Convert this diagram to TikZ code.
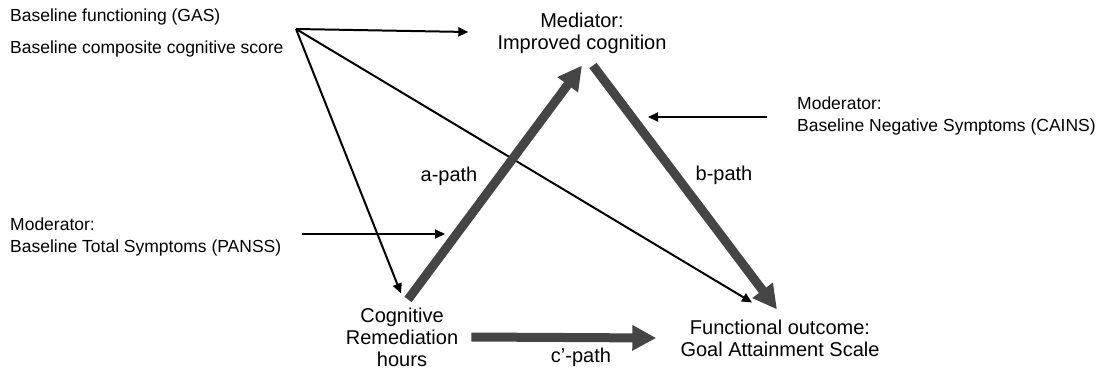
\documentclass[tikz,border=0pt]{standalone}
\usepackage{fontspec}
\setmainfont{Liberation Sans}
\usetikzlibrary{arrows.meta}
\definecolor{pathgray}{HTML}{454545}

\begin{document}
\begin{tikzpicture}[x=1pt, y=-1pt,
      lbl/.style={font=\fontsize{17.5}{22.5}\selectfont, inner sep=0pt, align=left},
      var/.style={font=\fontsize{20}{22}\selectfont, inner sep=0pt, align=center},
      pathlbl/.style={font=\fontsize{20}{22}\selectfont, inner sep=0pt},
      thinarrow/.style={line width=2pt, -{Triangle[length=10pt,width=9pt]}},
      patharrow/.style={line width=9pt, draw=pathgray, -{Triangle[length=24pt,width=24pt]}}
    ]
    \useasboundingbox (0,0) rectangle (1104,372);

    % baseline covariates
    \node[lbl, anchor=base west] (gas) at (10,21.5) {Baseline functioning (GAS)};
    \node[lbl, anchor=base west] (cog) at (10,53.5) {Baseline composite cognitive score};
    \coordinate (fan) at (296,29);

    % mediator, predictor and outcome
    \node[var] (med) at (582,33) {Mediator:\\Improved cognition};
    \node[var] (crh) at (402,337) {Cognitive\\Remediation\\hours};
    \node[var] (fo) at (780,338) {Functional outcome:\\Goal Attainment Scale};

    % moderators
    \node[lbl, anchor=west] (modn) at (797,116) {Moderator:\\Baseline Negative Symptoms (CAINS)};
    \node[lbl, anchor=west] (modp) at (10,237) {Moderator:\\Baseline Total Symptoms (PANSS)};
    \coordinate (bmod) at (648,117);
    \coordinate (amod) at (445,234);

    % covariate paths
    \draw[thinarrow] (fan) -- ([shift={(-29,-1)}]med.west);
    \draw[thinarrow] (fan) -- ([shift={(-1,-14)}]crh.north);
    \draw[thinarrow] (fan) -- ([shift={(-28,-17)}]fo.north);

    % main paths
    \draw[patharrow] ([shift={(6,-8)}]crh.north) -- ([shift={(0,12)}]med.south);
    \draw[patharrow] ([shift={(11,12)}]med.south) -- ([shift={(-3,-10)}]fo.north);
    \draw[patharrow] ([shift={(13,0)}]crh.east) -- ([shift={(-24,0)}]fo.west);

    % moderator arrows
    \draw[thinarrow] ([shift={(-30,1)}]modn.west) -- (bmod);
    \draw[thinarrow] ([shift={(21,-3)}]modp.east) -- (amod);

    % path labels
    \node[pathlbl] (alab) at (449,176) {a-path};
    \node[pathlbl] (blab) at (724,175) {b-path};
    \node[pathlbl] (clab) at (581,357) {c'-path};

\end{tikzpicture}
\end{document}
